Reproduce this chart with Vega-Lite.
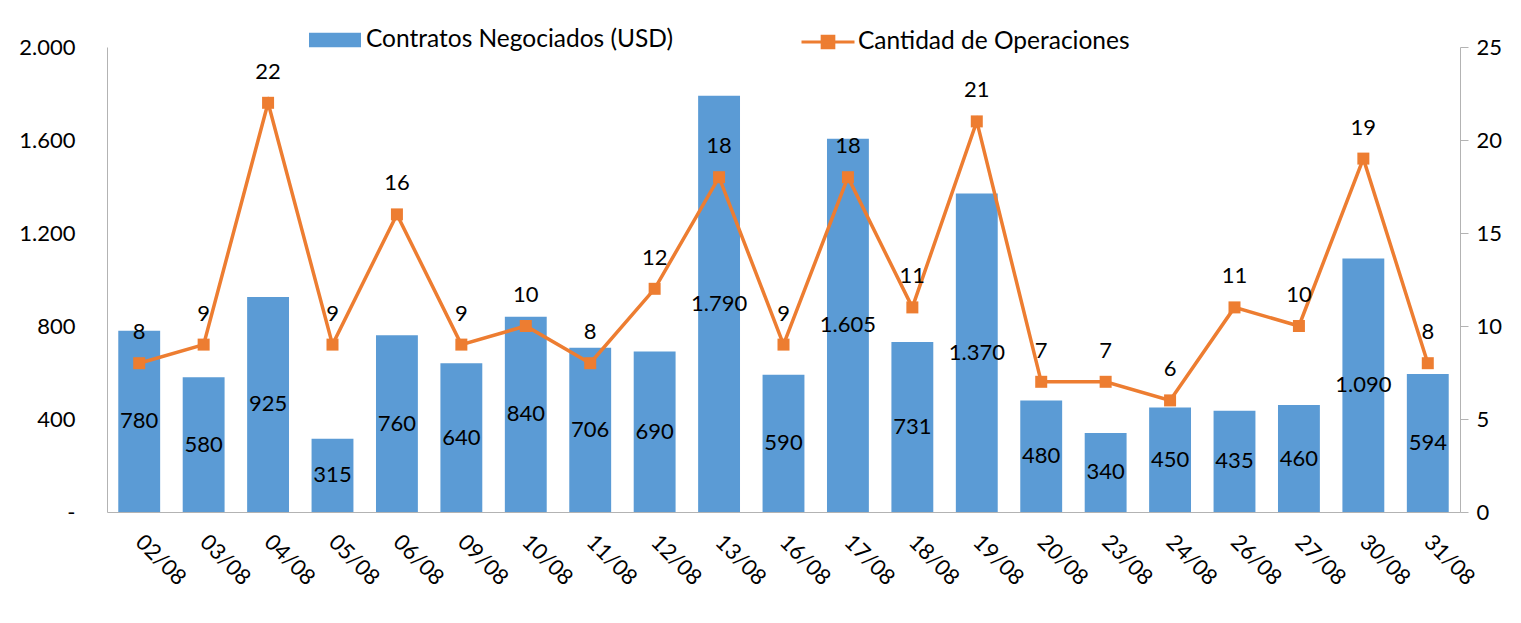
{
  "$schema": "https://vega.github.io/schema/vega-lite/v6.json",
  "autosize": "none",
  "width": 1353,
  "height": 465,
  "padding": {"left": 107, "top": 47, "right": 61, "bottom": 111},
  "background": "white",
  "config": {
    "font": "Lato",
    "view": {"stroke": null},
    "locale": {"number": {"decimal": ",", "thousands": ".", "grouping": [3], "currency": ["", ""]}},
    "axis": {"labelFont": "Lato", "labelFontSize": 22, "labelColor": "#000000", "domainColor": "#B3B3B3", "tickColor": "#B3B3B3", "grid": false, "title": null},
    "legend": {"labelFont": "Lato", "labelFontSize": 24.5, "labelColor": "#000000", "labelLimit": 500}
  },
  "data": {
    "values": [
      {"fecha": "02/08", "usd": 780, "ops": 8},
      {"fecha": "03/08", "usd": 580, "ops": 9},
      {"fecha": "04/08", "usd": 925, "ops": 22},
      {"fecha": "05/08", "usd": 315, "ops": 9},
      {"fecha": "06/08", "usd": 760, "ops": 16},
      {"fecha": "09/08", "usd": 640, "ops": 9},
      {"fecha": "10/08", "usd": 840, "ops": 10},
      {"fecha": "11/08", "usd": 706, "ops": 8},
      {"fecha": "12/08", "usd": 690, "ops": 12},
      {"fecha": "13/08", "usd": 1790, "ops": 18},
      {"fecha": "16/08", "usd": 590, "ops": 9},
      {"fecha": "17/08", "usd": 1605, "ops": 18},
      {"fecha": "18/08", "usd": 731, "ops": 11},
      {"fecha": "19/08", "usd": 1370, "ops": 21},
      {"fecha": "20/08", "usd": 480, "ops": 7},
      {"fecha": "23/08", "usd": 340, "ops": 7},
      {"fecha": "24/08", "usd": 450, "ops": 6},
      {"fecha": "26/08", "usd": 435, "ops": 11},
      {"fecha": "27/08", "usd": 460, "ops": 10},
      {"fecha": "30/08", "usd": 1090, "ops": 19},
      {"fecha": "31/08", "usd": 594, "ops": 8}
    ]
  },
  "encoding": {
    "x": {
      "field": "fecha", "type": "nominal", "sort": null,
      "scale": {"paddingInner": 0.35, "paddingOuter": 0.175},
      "axis": {"labelAngle": 45, "ticks": false, "labelPadding": 26, "labelAlign": "left", "labelBaseline": "middle"}
    }
  },
  "layer": [
    {
      "mark": {"type": "bar"},
      "encoding": {
        "y": {"field": "usd", "type": "quantitative", "scale": {"domain": [0, 2000], "nice": false},
          "axis": {"orient": "left", "values": [0, 400, 800, 1200, 1600, 2000], "ticks": false, "labelPadding": 32, "format": ",.0f",
            "labelExpr": "datum.value == 0 ? '-\u00a0\u00a0\u00a0' : datum.label"}},
        "fill": {"datum": "Contratos Negociados (USD)", "type": "nominal", "scale": {"range": ["#5B9BD5"]},
          "legend": {"orient": "none", "legendX": 202, "legendY": -33, "padding": 0, "title": null,
            "symbolType": "M-1,-0.28H1V0.28H-1Z", "symbolSize": 2704, "symbolStrokeWidth": 0, "labelOffset": 5}}
      }
    },
    {
      "mark": {"type": "text", "fontSize": 22, "font": "Lato", "color": "#000000", "baseline": "middle"},
      "encoding": {
        "y": {"field": "usd", "type": "quantitative", "scale": {"domain": [0, 4000], "nice": false}, "axis": null},
        "text": {"field": "usd", "type": "quantitative", "format": ",.0f"}
      }
    },
    {
      "layer": [
        {
          "mark": {"type": "line", "strokeWidth": 3.5},
          "encoding": {
            "y": {"field": "ops", "type": "quantitative", "scale": {"domain": [0, 25], "nice": false},
              "axis": {"orient": "right", "values": [0, 5, 10, 15, 20, 25], "tickSize": 8, "labelPadding": 8}},
            "stroke": {"datum": "Cantidad de Operaciones", "type": "nominal", "scale": {"range": ["#ED7D31"]},
              "legend": {"orient": "none", "legendX": 693, "legendY": -33, "padding": 0, "title": null,
                "symbolType": "M-1,0H1M-0.22,-0.22H0.22V0.22H-0.22Z", "symbolSize": 2809, "symbolStrokeWidth": 3, "symbolFillColor": "#ED7D31", "labelOffset": 2}}
          }
        },
        {
          "mark": {"type": "square", "size": 144, "color": "#ED7D31", "opacity": 1, "filled": true},
          "encoding": {"y": {"field": "ops", "type": "quantitative", "scale": {"domain": [0, 25], "nice": false}}}
        },
        {
          "mark": {"type": "text", "fontSize": 22, "font": "Lato", "color": "#000000", "baseline": "middle", "dy": -31},
          "encoding": {
            "y": {"field": "ops", "type": "quantitative", "scale": {"domain": [0, 25], "nice": false}},
            "text": {"field": "ops", "type": "quantitative"}
          }
        }
      ]
    }
  ],
  "resolve": {"scale": {"y": "independent", "fill": "independent", "stroke": "independent"}}
}
